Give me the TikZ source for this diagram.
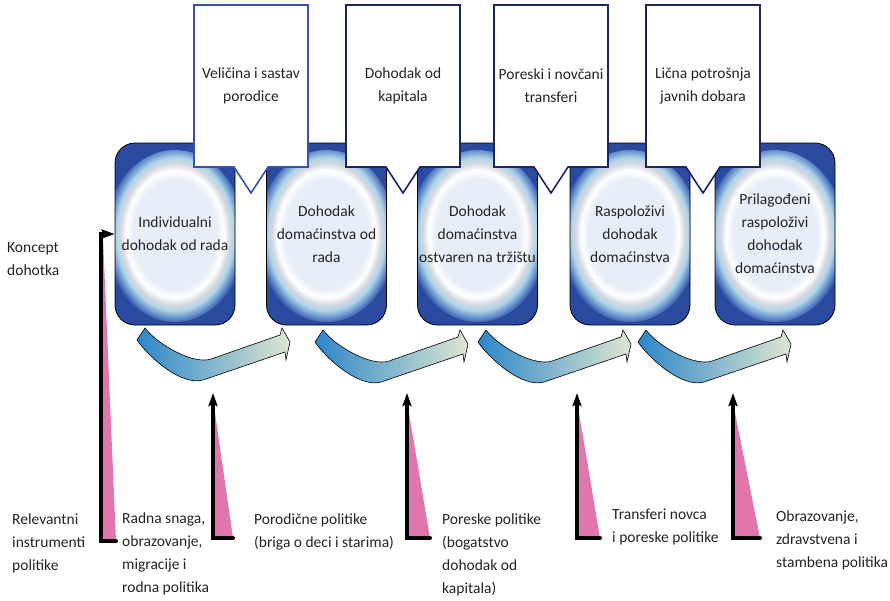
\documentclass[tikz,border=0pt]{standalone}
\usepackage{fontspec}
\setmainfont{Carlito}
\usepackage{tikz}
\usetikzlibrary{arrows.meta,shapes.callouts}

\definecolor{boxblue}{RGB}{42,74,160}
\definecolor{glowin}{RGB}{232,238,248}
\definecolor{glowgray}{RGB}{212,216,224}
\definecolor{glowcyan}{RGB}{176,214,234}
\definecolor{glowmid}{RGB}{86,128,196}
\definecolor{calloutA}{RGB}{60,80,178}
\definecolor{calloutB}{RGB}{28,36,100}
\definecolor{flowleft}{RGB}{45,135,201}
\definecolor{flowright}{RGB}{222,231,210}
\definecolor{wedge}{RGB}{224,118,172}
\definecolor{txt}{RGB}{35,35,35}

\pgfdeclareradialshading{glow}{\pgfpointorigin}{color(0bp)=(glowin); color(15bp)=(glowin); color(17.5bp)=(white); color(19.5bp)=(glowgray); color(21bp)=(glowcyan); color(23.5bp)=(glowmid); color(25bp)=(boxblue); color(50bp)=(boxblue)}

\newcommand{\txtsize}{\fontsize{15.5}{23}\selectfont}

\begin{document}
\begin{tikzpicture}[x=1pt,y=-1pt,font=\txtsize,text=txt]
		\useasboundingbox (0,0) rectangle (890,600);

		\begin{scope}[every node/.style={rectangle,rounded corners=20pt,draw=black,line width=0.8pt,fill=boxblue,
					  minimum width=120pt,minimum height=182pt,align=center,inner sep=1pt,
					  path picture={\shade[shading=glow] ([yshift=-2pt]path picture bounding box.center) ellipse (70 and 86);}}]
			\node (b1) at (175,234) {Individualni\\dohodak od rada};
			\node (b2) at (326.5,234) {Dohodak\\domaćinstva od\\rada};
			\node (b3) at (477.5,234) {Dohodak\\domaćinstva\\ostvaren na tržištu};
			\node (b4) at (630,234) {Raspoloživi\\dohodak\\domaćinstva};
			\node (b5) at (775,234) {Prilagođeni\\raspoloživi\\dohodak\\domaćinstva};
		\end{scope}

		\begin{scope}[every node/.style={rectangle callout,draw,fill=white,line width=1.6pt,
					  minimum width=114pt,minimum height=162pt,callout pointer width=34pt,align=center}]
			\node[draw=calloutA,callout absolute pointer={(251,193)}] (c1) at (251,86) {Veličina i sastav\\porodice};
			\node[draw=calloutB,callout absolute pointer={(403,193)}] (c2) at (403,86) {Dohodak od\\kapitala};
			\node[draw=calloutB,callout absolute pointer={(551,193)}] (c3) at (551,86) {Poreski i novčani\\transferi};
			\node[draw=calloutB,callout absolute pointer={(703,193)}] (c4) at (703,86) {Lična potrošnja\\javnih dobara};
		\end{scope}

		% curved flow arrows between the boxes
		\tikzset{flow/.style={draw=black,line width=0.6pt,left color=flowleft,right color=flowright}}
		\foreach \x/\y in {137/340,315/342,478/342,638/342}
			\shade[flow,shift={(\x,\y)}] (0,0) .. controls (14,20) and (46,46) .. (66,40) -- (148,12) -- (149,20)
				-- (153,2) -- (145,-12) -- (143,-5) -- (74,19) .. controls (56,25) and (20,4) .. (8,-12) -- cycle;

		\begin{scope}[>={Stealth[length=13pt,width=9pt,inset=2pt]},line width=4pt,line cap=round]
			\fill[wedge] (103,238) -- (103,541) -- (116,541) -- cycle;
			\coordinate (end1) at (116,541);
			\coordinate (foot1) at (101,541);
			\coordinate (tip1) at (101,234);
			\draw[->] (end1) -- (foot1) -- (tip1) -- (b1.west);
			\foreach \i/\x/\r in {2/213/233,3/407/430,4/577/600,5/733/760} {
				\fill[wedge] (\x+2,413) -- (\x+2,538) -- (\r,538) -- cycle;
				\coordinate (end\i) at (\r,538);
				\coordinate (foot\i) at (\x,538);
				\coordinate (tip\i) at (\x,393);
				\draw[->] (end\i) -- (foot\i) -- (tip\i);
			}
		\end{scope}

		\begin{scope}[every node/.style={anchor=north west,align=left,inner sep=0pt}]
			\node (koncept) at (7,242) {Koncept\\dohotka};
			\node (relevantni) at (12,514) {Relevantni\\instrumenti\\politike};
			\node (l1) at (122,513) {Radna snaga,\\obrazovanje,\\migracije i\\rodna politika};
			\node (l2) at (254,514) {Porodične politike\\(briga o deci i starima)};
			\node (l3) at (442,514) {Poreske politike\\(bogatstvo\\dohodak od\\kapitala)};
			\node (l4) at (612,509) {Transferi novca\\i poreske politike};
			\node (l5) at (776,511) {Obrazovanje,\\zdravstvena i\\stambena politika};
		\end{scope}
\end{tikzpicture}
\end{document}
